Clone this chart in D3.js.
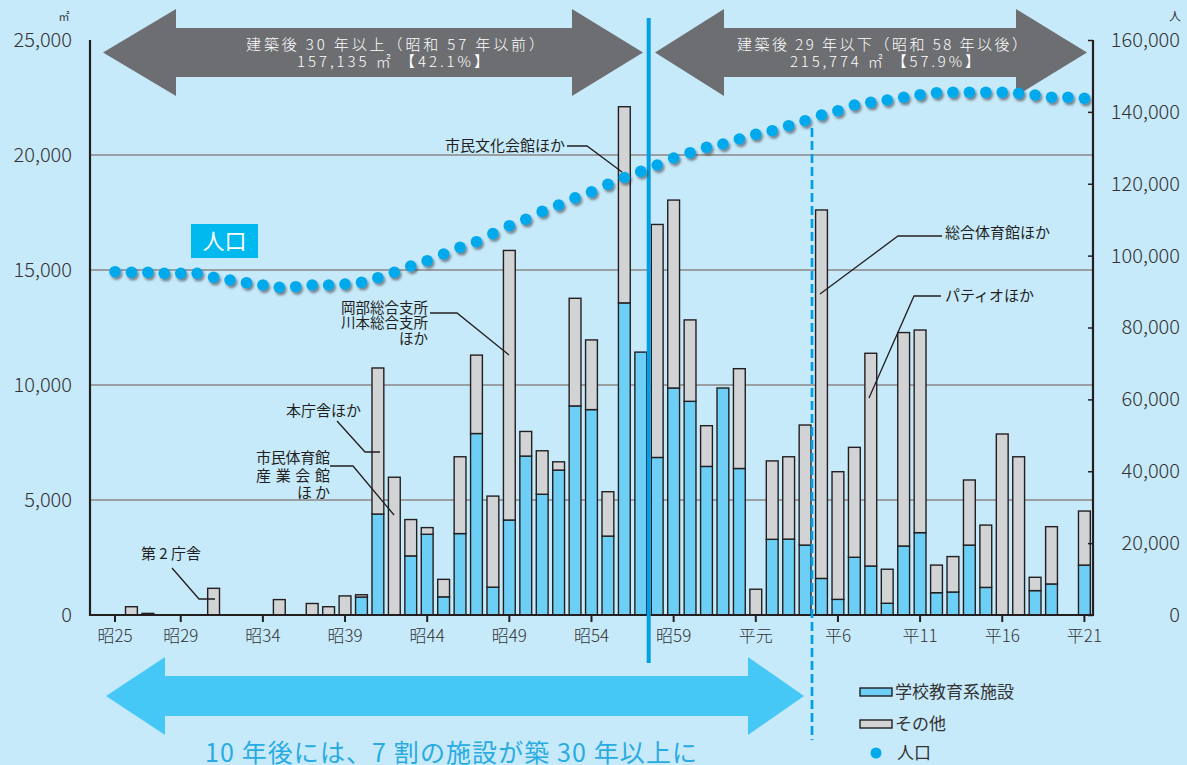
<!DOCTYPE html>
<html><head><meta charset="utf-8">
<script src="https://cdn.jsdelivr.net/npm/d3@7"></script>
<style>
html,body{margin:0;padding:0;background:#c7eafb;}
svg{display:block;font-family:"Noto Sans CJK JP","Noto Sans",sans-serif;}
</style></head>
<body>
<svg id="c" width="1187" height="765"></svg>
<script>
// ---------- data ----------
const years = ["昭25","昭26","昭27","昭28","昭29","昭30","昭31","昭32","昭33","昭34",
  "昭35","昭36","昭37","昭38","昭39","昭40","昭41","昭42","昭43","昭44",
  "昭45","昭46","昭47","昭48","昭49","昭50","昭51","昭52","昭53","昭54",
  "昭55","昭56","昭57","昭58","昭59","昭60","昭61","昭62","昭63","平元",
  "平2","平3","平4","平5","平6","平7","平8","平9","平10","平11",
  "平12","平13","平14","平15","平16","平17","平18","平19","平20","平21"];
// 学校教育系施設 (㎡)
const school = [0,0,0,0,0,0,0,0,0,0,
  0,0,0,0,0,780,4390,0,2570,3510,
  790,3540,7890,1210,4130,6910,5250,6300,9090,8930,
  3430,13570,11430,6850,9870,9290,6460,9870,6370,0,
  3290,3300,3040,1590,680,2510,2130,510,3000,3580,
  970,1000,3040,1200,0,0,1060,1350,0,2170];
// その他 (㎡)
const other = [0,360,70,0,0,0,1160,0,0,0,
  670,0,500,360,830,100,6350,5990,1580,290,
  760,3340,3410,3960,11720,1070,1890,360,4680,3030,
  1930,8530,0,10130,8170,3540,1770,0,4340,1120,
  3410,3580,5220,16020,5550,4780,9250,1480,9280,8810,
  1200,1540,2830,2710,7870,6880,580,2490,0,2350];
// 人口 (人)
const population = [95530,95360,95360,95080,95080,95080,93970,93220,92470,91830,
  91190,91350,91830,91830,92100,92580,93860,95360,97110,98590,
  100450,102320,103880,106130,108330,110110,112310,114090,116060,117760,
  119850,121740,123440,125220,127170,128640,130140,131060,132450,133760,
  134760,136150,137540,139130,140330,141910,142660,143300,144060,144780,
  145340,145450,145450,145450,145450,145170,144700,144060,144060,143780];
const tickLabels = ["昭25","昭29","昭34","昭39","昭44","昭49","昭54","昭59","平元","平6","平11","平16","平21"];
const leftTicks = [0,5000,10000,15000,20000,25000];
const rightTicks = [0,20000,40000,60000,80000,100000,120000,140000,160000];
const gridTicks = [5000,10000,15000,20000];
const seriesNames = ["学校教育系施設","その他","人口"];

// ---------- setup ----------
const svg = d3.select("#c");
const X0 = 90, X1 = 1093, Y0 = 615, YT = 40;
const x = d3.scaleBand().domain(years).range([106.8, 1092.6]).paddingInner(0.28).paddingOuter(0.14);
const cx = d => x(d) + x.bandwidth()/2;
const yL = d3.scaleLinear().domain([0,25000]).range([Y0,YT]);
const yR = d3.scaleLinear().domain([0,160000]).range([Y0,YT]);

const C = {blue:"#6dcff6", gray:"#d1d3d4", stroke:"#231f20", dot:"#00a9ec", line:"#00a0e9", arrow:"#6d6e71", big:"#45c8f5", text:"#231f20"};

const defs = svg.append("defs");
const f = defs.append("filter").attr("id","sh").attr("x","-50%").attr("y","-50%").attr("width","200%").attr("height","200%");
f.append("feDropShadow").attr("dx",1.6).attr("dy",2.4).attr("stdDeviation",1).attr("flood-color","#333").attr("flood-opacity",0.55);

// gridlines
svg.append("g").selectAll("line").data(gridTicks).join("line")
  .attr("x1",X0).attr("x2",X1).attr("y1",d=>yL(d)).attr("y2",d=>yL(d))
  .attr("stroke","#9a9fa3").attr("stroke-width",2);

// top gray arrows
function dblArrow(x1,xb1,xb2,x2,cy,hh,bh){
  return [[x1,cy],[xb1,cy-hh],[xb1,cy-bh],[xb2,cy-bh],[xb2,cy-hh],[x2,cy],[xb2,cy+hh],[xb2,cy+bh],[xb1,cy+bh],[xb1,cy+hh]];
}
const line = d3.line();
svg.append("path").attr("d", line(dblArrow(103,176,572,643,52.5,43.5,24.5))+"Z").attr("fill",C.arrow);
svg.append("path").attr("d", line(dblArrow(655,724,1016,1087,52.5,43.5,24.5))+"Z").attr("fill",C.arrow);
const arrowText = [
  {x:395,y:50,t:"建築後 30 年以上（昭和 57 年以前）",w:298},
  {x:393,y:67,t:"157,135 ㎡ 【42.1%】",w:192},
  {x:882,y:50,t:"建築後 29 年以下（昭和 58 年以後）",w:290},
  {x:885,y:67,t:"215,774 ㎡ 【57.9%】",w:190}];
svg.append("g").selectAll("text").data(arrowText).join("text")
  .attr("x",d=>d.x).attr("y",d=>d.y).attr("text-anchor","middle")
  .attr("textLength",d=>d.w).attr("lengthAdjust","spacing")
  .attr("fill","#fff").attr("font-size",15).attr("font-weight",300).text(d=>d.t);

// bars
const bars = svg.append("g");
years.forEach((yr,i)=>{
  const s = school[i], o = other[i];
  if (s>0) bars.append("rect").attr("x",x(yr)).attr("width",x.bandwidth())
    .attr("y",yL(s)).attr("height",yL(0)-yL(s))
    .attr("fill",C.blue).attr("stroke",C.stroke).attr("stroke-width",1.4);
  if (o>0) bars.append("rect").attr("x",x(yr)).attr("width",x.bandwidth())
    .attr("y",yL(s+o)).attr("height",yL(s)-yL(s+o))
    .attr("fill",C.gray).attr("stroke",C.stroke).attr("stroke-width",1.4);
});

// axes
const axL = svg.append("g").attr("transform",`translate(${X0},0)`)
  .call(d3.axisLeft(yL).tickValues(leftTicks).tickSize(0).tickPadding(18).tickFormat(d3.format(",")));
const axR = svg.append("g").attr("transform",`translate(${X1},0)`)
  .call(d3.axisRight(yR).tickValues(rightTicks).tickSize(-5).tickFormat(d3.format(",")));
const axB = svg.append("g").attr("transform",`translate(0,${Y0})`)
  .call(d3.axisBottom(x).tickValues(tickLabels).tickSize(7).tickPadding(8));
[axL,axR,axB].forEach(a=>{a.select(".domain").remove(); a.selectAll("text").attr("fill","#333").attr("font-weight",300).attr("font-family","'Noto Sans CJK JP',sans-serif");});
axL.selectAll("text").attr("font-size",20);
axR.selectAll("text").attr("font-size",20).attr("text-anchor","end").attr("x",87);
axB.selectAll("text").attr("font-size",17);
axR.selectAll(".tick line").attr("stroke",C.stroke).attr("stroke-width",1.5);
axB.selectAll(".tick line").attr("stroke",C.stroke).attr("stroke-width",2);
svg.append("line").attr("x1",X0).attr("x2",X0).attr("y1",YT).attr("y2",Y0+1).attr("stroke",C.stroke).attr("stroke-width",2.2);
svg.append("line").attr("x1",X1).attr("x2",X1).attr("y1",YT).attr("y2",Y0+1).attr("stroke",C.stroke).attr("stroke-width",2.2);
svg.append("line").attr("x1",X0-1).attr("x2",X1+1).attr("y1",Y0).attr("y2",Y0).attr("stroke",C.stroke).attr("stroke-width",2.2);
svg.append("text").attr("x",64).attr("y",21).attr("text-anchor","middle").attr("font-size",11).attr("fill","#333").text("㎡");
svg.append("text").attr("x",1175).attr("y",21).attr("text-anchor","middle").attr("font-size",12).attr("fill","#333").text("人");

// vertical separators
svg.append("line").attr("x1",648.7).attr("x2",648.7).attr("y1",18).attr("y2",663)
  .attr("stroke",C.line).attr("stroke-width",4);
svg.append("line").attr("x1",812).attr("x2",812).attr("y1",128).attr("y2",740)
  .attr("stroke",C.line).attr("stroke-width",2.7).attr("stroke-dasharray","9,4");

// population dots
svg.append("g").attr("filter","url(#sh)").selectAll("circle").data(years).join("circle")
  .attr("cx",d=>cx(d)).attr("cy",(d,i)=>yR(population[i])).attr("r",5.8).attr("fill",C.dot);

// 人口 label
svg.append("rect").attr("x",191).attr("y",224).attr("width",67).attr("height",34).attr("fill","#00b9ef");
svg.append("text").attr("x",224.5).attr("y",249).attr("text-anchor","middle").attr("font-size",22).attr("fill","#fff").text("人口");

// annotations
const ann = svg.append("g").attr("font-size",15).attr("fill",C.text);
const lead = (pts)=>svg.append("path").attr("d",line(pts)).attr("fill","none").attr("stroke",C.stroke).attr("stroke-width",1.3);
ann.append("text").attr("x",565).attr("y",151).attr("text-anchor","end").text("市民文化会館ほか");
lead([[567,146],[587,146],[622,172]]);
ann.append("text").attr("x",945).attr("y",238).text("総合体育館ほか");
lead([[942,236],[898,236],[820,294]]);
ann.append("text").attr("x",945).attr("y",301).text("パティオほか");
lead([[941,296],[914,296],[869,398]]);
ann.append("text").attr("x",361).attr("y",416).attr("text-anchor","end").text("本庁舎ほか");
lead([[337,421],[365,452],[380,452]]);
ann.append("text").attr("x",330).attr("y",463).attr("text-anchor","end").attr("textLength",74).attr("lengthAdjust","spacing").text("市民体育館");
ann.append("text").attr("x",330).attr("y",481).attr("text-anchor","end").attr("textLength",74).attr("lengthAdjust","spacing").text("産業会館");
ann.append("text").attr("x",330).attr("y",498).attr("text-anchor","end").attr("textLength",33).attr("lengthAdjust","spacing").text("ほか");
lead([[330,466],[353,466],[394,515]]);
ann.append("text").attr("x",171).attr("y",559).attr("text-anchor","middle").text("第 2 庁舎");
lead([[172,568],[199,599],[215,599]]);
const ok = ann.append("g").attr("font-size",14.5);
ok.append("text").attr("x",428).attr("y",313).attr("text-anchor","end").text("岡部総合支所");
ok.append("text").attr("x",428).attr("y",328).attr("text-anchor","end").text("川本総合支所");
ok.append("text").attr("x",428).attr("y",344).attr("text-anchor","end").text("ほか");
lead([[430,313],[457,313],[509,355]]);

// bottom big arrow
svg.append("path").attr("d", line(dblArrow(106,165,748,804,696,39,20))+"Z").attr("fill",C.big);
svg.append("text").attr("x",451).attr("y",762).attr("text-anchor","middle").attr("font-size",25)
  .attr("textLength",492).attr("lengthAdjust","spacing").attr("fill","#29abe2").text("10 年後には、7 割の施設が築 30 年以上に");

// legend
const lg = svg.append("g");
lg.append("rect").attr("x",860).attr("y",688).attr("width",32).attr("height",8).attr("fill",C.blue).attr("stroke",C.stroke).attr("stroke-width",1.4);
lg.append("rect").attr("x",860).attr("y",720).attr("width",32).attr("height",8).attr("fill",C.gray).attr("stroke",C.stroke).attr("stroke-width",1.4);
lg.append("circle").attr("cx",876).attr("cy",753).attr("r",5.5).attr("fill",C.dot);
lg.selectAll("text").data(seriesNames).join("text")
  .attr("x",(d,i)=>i<2?895:897).attr("y",(d,i)=>[698,730,759][i]).attr("font-size",17).attr("fill","#333").text(d=>d);
</script>
</body></html>
